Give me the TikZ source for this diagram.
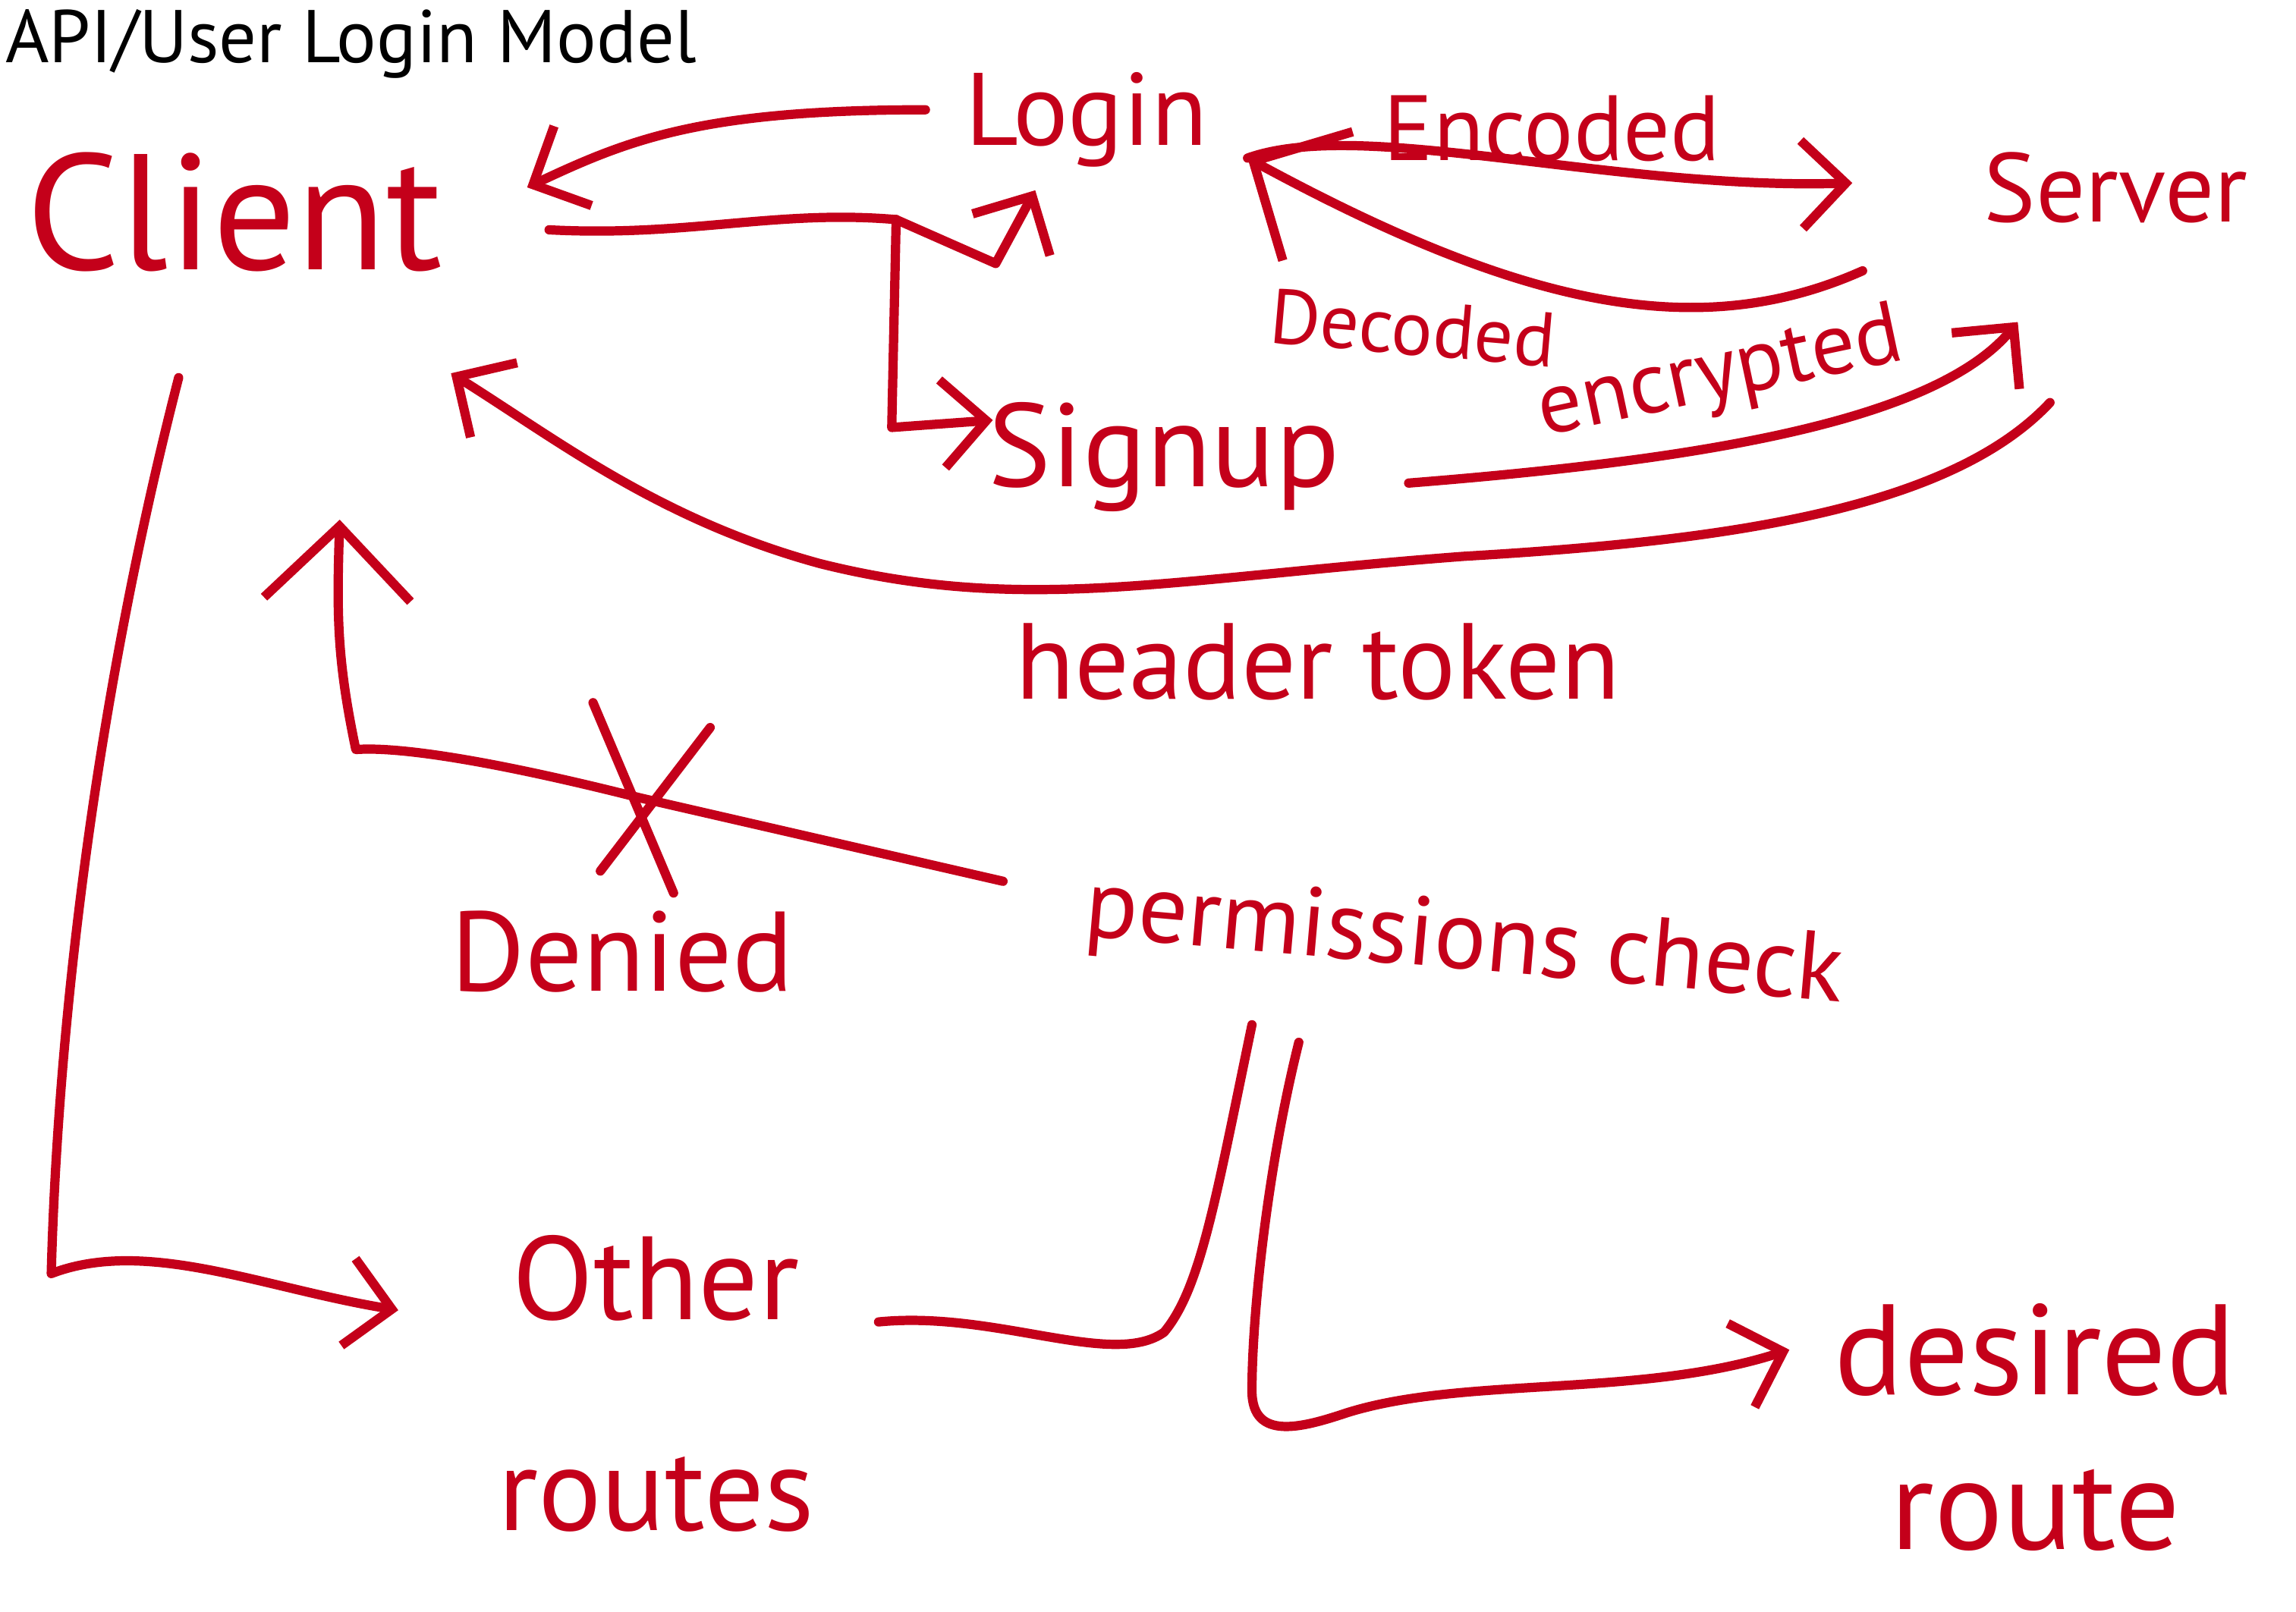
\documentclass[tikz,border=0pt]{standalone}
\usepackage{fontspec}
\setmainfont{PT Sans}
\usetikzlibrary{arrows.meta,calc}
\definecolor{ink}{RGB}{196,0,26}

\begin{document}
\begin{tikzpicture}[x=0.01cm, y=-0.01cm,
    word/.style = {text=ink, inner sep=0pt},
    pen/.style = {draw=ink, line width=1.8pt, line cap=round, line join=round},
    arr/.style = {pen, -{Straight Barb[length=3mm, width=6mm, line width=1.8pt]}},
    bigarr/.style = {pen, -{Straight Barb[length=5mm, width=10mm, line width=1.8pt]}}]
    \useasboundingbox (0,0) rectangle (1568,1101);

    \node (title) [anchor=base west, inner sep=0pt, font=\fontsize{14.5}{17}\selectfont] at (3,43) {API/User Login Model};
    \node (client) [word, font=\fontsize{32}{36}\selectfont] at (160,145) {Client};
    \node (login) [word, font=\fontsize{20}{24}\selectfont] at (742,82) {Login};
    \node (encoded) [word, font=\fontsize{18}{22}\selectfont] at (1060,88) {Encoded};
    \node (server) [word, font=\fontsize{19}{23}\selectfont] at (1445,128) {Server};
    \node (decoded) [word, rotate=-5, font=\fontsize{15}{18}\selectfont] at (965,224) {Decoded};
    \node (signup) [word, font=\fontsize{23}{27}\selectfont] at (795,312) {Signup};
    \node (encrypted) [word, rotate=12, font=\fontsize{17}{21}\selectfont] at (1175,257) {encrypted};
    \node (headertoken) [word, font=\fontsize{21}{25}\selectfont] at (900,452) {header token};
    \node (denied) [word, font=\fontsize{22}{26}\selectfont] at (425,650) {Denied};
    \node (permcheck) [word, rotate=-5, font=\fontsize{19}{23}\selectfont] at (1000,645) {permissions check};
    \node (others) [word, align=center, font=\fontsize{23}{41}\selectfont] at (448,945) {Other\\routes};
    \node (desired) [word, align=center, font=\fontsize{25}{30}\selectfont] at (1390,975) {desired\\route};

    \coordinate (split) at (612,150);
    \coordinate (hub) at (852,108);
    \coordinate (block) at (437,545);

    \draw[arr] ($(login)+(-110,-7)$) .. controls (480,75) and (430,95) .. ($(client)+(200,-17)$);
    \draw[pen] ($(client)+(215,12)$) .. controls (470,162) and (530,143) .. (split);
    \draw[arr] (split) -- (680,180) -- ($(login)+(-35,48)$);
    \draw[arr] (split) -- (609,292) -- ($(signup)+(-117,-25)$);

    \draw[arr] (hub) .. controls (930,80) and (1100,130) .. ($(server)+(-180,-3)$);
    \draw[bigarr] ($(server)+(-173,57)$) .. controls (1160,235) and (1040,210) .. (hub);
    \draw[arr] ($(signup)+(167,18)$) .. controls (1150,315) and (1320,290) .. ($(server)+(-67,92)$);
    \draw[arr] ($(server)+(-45,147)$) .. controls (1330,350) and (1170,370) .. (1000,380)
        .. controls (800,395) and (700,420) .. (560,385)
        .. controls (450,355) and (380,300) .. ($(client)+(148,110)$);

    \draw[bigarr] ($(permcheck)+(-315,-43)$) -- (block) .. controls (330,518) and (270,510) .. (243,512)
        .. controls (230,450) and (230,420) .. ($(client)+(72,210)$);
    \draw[pen] ($(block)+(-32,-65)$) -- ($(block)+(23,65)$);
    \draw[pen] ($(block)+(48,-48)$) -- ($(block)+(-27,50)$);

    \draw[arr] ($(client)+(-38,113)$) .. controls (70,460) and (40,680) .. (35,870)
        .. controls (100,845) and (180,880) .. ($(others)+(-176,-50)$);
    \draw[arr] ($(permcheck)+(-113,67)$) .. controls (865,800) and (855,900) .. (855,950)
        .. controls (855,985) and (890,975) .. (920,965)
        .. controls (1000,940) and (1120,955) .. ($(desired)+(-168,-53)$);
    \draw[pen] ($(permcheck)+(-145,55)$) .. controls (830,820) and (820,880) .. (795,910)
        .. controls (760,935) and (680,895) .. ($(others)+(152,-42)$);
\end{tikzpicture}
\end{document}
